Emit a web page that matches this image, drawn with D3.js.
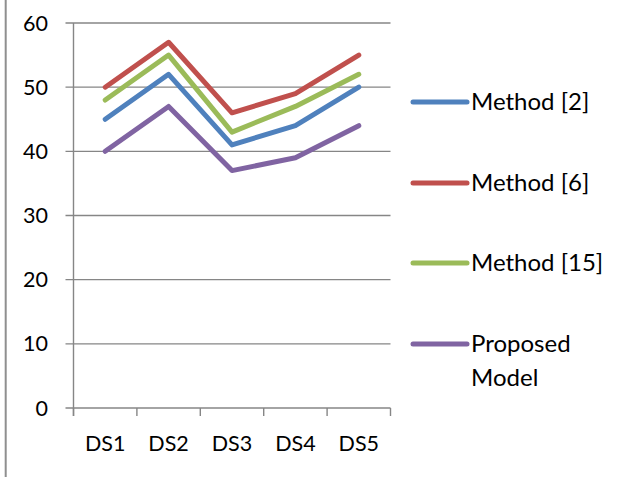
<!DOCTYPE html>
<html>
<head>
<meta charset="utf-8">
<script src="https://cdn.jsdelivr.net/npm/d3@7"></script>
<style>
  html, body { margin: 0; padding: 0; background: #fff; }
  svg { display: block; font-family: Lato, "Open Sans", sans-serif; }
</style>
</head>
<body>
<svg id="chart" width="629" height="477"></svg>
<script>
// Category labels along the x axis
const categories = ["DS1", "DS2", "DS3", "DS4", "DS5"];

// Series names and their values per dataset
const seriesNames = ["Method [2]", "Method [6]", "Method [15]", "Proposed Model"];
const method2 = [45, 52, 41, 44, 50];
const method6 = [50, 57, 46, 49, 55];
const method15 = [48, 55, 43, 47, 52];
const proposed = [40, 47, 37, 39, 44];
const seriesValues = [method2, method6, method15, proposed];
const seriesColors = ["#4F81BD", "#C0504D", "#9BBB59", "#8064A2"];

// Y axis ticks
const yTicks = [0, 10, 20, 30, 40, 50, 60];

const svg = d3.select("#chart");
const plot = { left: 73.5, right: 390.5, top: 23, bottom: 408 };
const gridColor = "#868686";
const axisFont = 21.5;
const legendFont = 24;

const x = d3.scaleBand().domain(categories).range([plot.left, plot.right]);
const y = d3.scaleLinear().domain([0, 60]).range([plot.bottom, plot.top]);

// Outer frame line on the left side
svg.append("line")
  .attr("x1", 5.7).attr("x2", 5.7).attr("y1", 0).attr("y2", 477)
  .attr("stroke", "#8f8f8f").attr("stroke-width", 2);

// Horizontal gridlines with tick stubs
svg.append("g").selectAll("line").data(yTicks).join("line")
  .attr("x1", plot.left - 8).attr("x2", plot.right)
  .attr("y1", d => y(d)).attr("y2", d => y(d))
  .attr("stroke", gridColor).attr("stroke-width", 1.4);

// Y axis line
svg.append("line")
  .attr("x1", plot.left).attr("x2", plot.left)
  .attr("y1", plot.top).attr("y2", plot.bottom + 8)
  .attr("stroke", gridColor).attr("stroke-width", 1.4);

// Y tick labels
svg.append("g").selectAll("text").data(yTicks).join("text")
  .attr("x", 48).attr("y", d => y(d))
  .attr("dy", "0.35em")
  .attr("text-anchor", "end")
  .attr("font-size", axisFont)
  .attr("fill", "#000")
  .text(d => d);

// X tick marks at category boundaries
const boundaries = categories.map(c => x(c)).concat([x.range()[1]]);
svg.append("g").selectAll("line").data(boundaries).join("line")
  .attr("x1", d => d).attr("x2", d => d)
  .attr("y1", plot.bottom).attr("y2", plot.bottom + 8)
  .attr("stroke", gridColor).attr("stroke-width", 1.4);

// X labels
svg.append("g").selectAll("text").data(categories).join("text")
  .attr("x", d => x(d) + x.bandwidth() / 2)
  .attr("y", 443)
  .attr("dy", "0.35em")
  .attr("text-anchor", "middle")
  .attr("font-size", axisFont)
  .attr("fill", "#000")
  .text(d => d);

// Series lines
const line = d3.line()
  .x((d, i) => x(categories[i]) + x.bandwidth() / 2)
  .y(d => y(d));

svg.append("g").selectAll("path").data(seriesValues).join("path")
  .attr("d", d => line(d))
  .attr("fill", "none")
  .attr("stroke", (d, i) => seriesColors[i])
  .attr("stroke-width", 5)
  .attr("stroke-linejoin", "round")
  .attr("stroke-linecap", "round");

// Legend
const legendY = [102, 183, 263, 344];
const legend = svg.append("g").selectAll("g").data(seriesNames).join("g")
  .attr("transform", (d, i) => `translate(0, ${legendY[i]})`);

legend.append("line")
  .attr("x1", 413).attr("x2", 467)
  .attr("y1", 0).attr("y2", 0)
  .attr("stroke", (d, i) => seriesColors[i])
  .attr("stroke-width", 5)
  .attr("stroke-linecap", "round");

legend.append("text")
  .attr("x", 471)
  .attr("y", 0)
  .attr("font-size", legendFont)
  .attr("fill", "#000")
  .each(function(d) {
    const words = d === "Proposed Model" ? ["Proposed", "Model"] : [d];
    const t = d3.select(this);
    words.forEach((w, k) => {
      t.append("tspan")
        .attr("x", 471)
        .attr("dy", k === 0 ? "0.35em" : "1.4em")
        .text(w);
    });
  });
</script>
</body>
</html>
